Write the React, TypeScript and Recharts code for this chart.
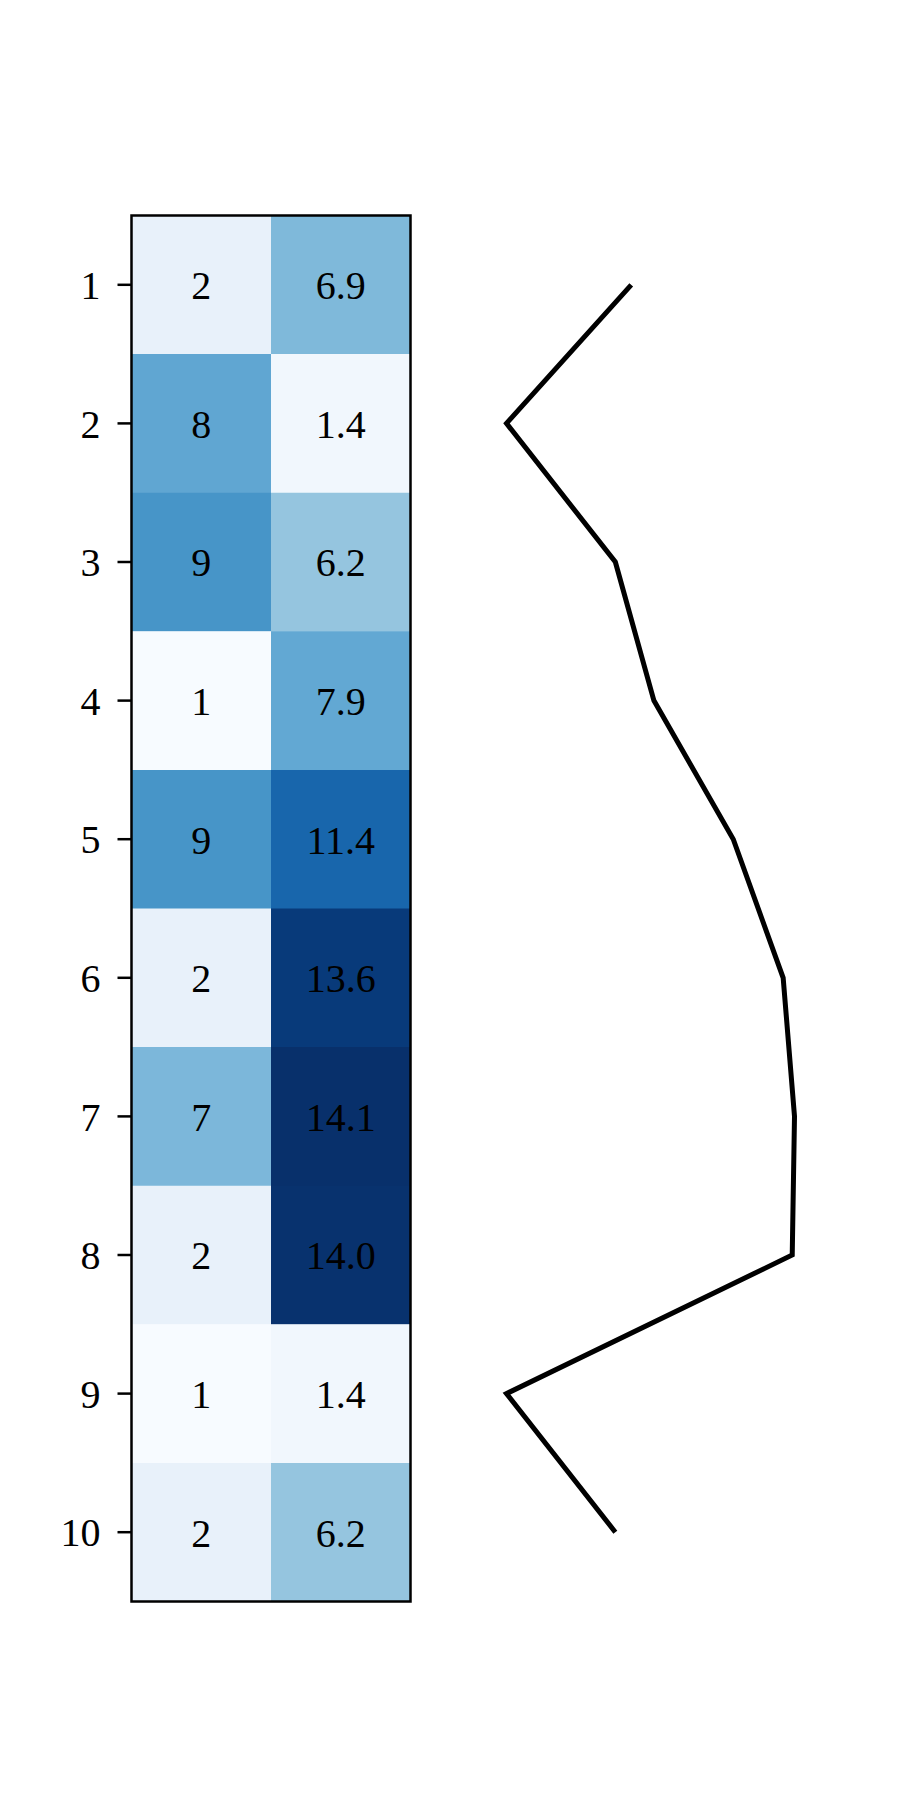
import React from 'react';
import { BarChart, Bar, XAxis, YAxis, Cell, LabelList, ComposedChart, Line, ReferenceArea } from 'recharts';

const rows = ['1', '2', '3', '4', '5', '6', '7', '8', '9', '10'];
const col1 = [2, 8, 9, 1, 9, 2, 7, 2, 1, 2];
const col2 = [6.9, 1.4, 6.2, 7.9, 11.4, 13.6, 14.1, 14.0, 1.4, 6.2];

const data = rows.map((r, i) => ({ row: r, a: 1, b: 1, v1: col1[i], v2: col2[i] }));

const allVals = [...col1, ...col2];
const vmin = Math.min(...allVals);
const vmax = Math.max(...allVals);

const BLUES = ['#f7fbff', '#deebf7', '#c6dbef', '#9ecae1', '#6baed6', '#4292c6', '#2171b5', '#08519c', '#08306b'];
function hex(c: string) {
  return [parseInt(c.slice(1, 3), 16), parseInt(c.slice(3, 5), 16), parseInt(c.slice(5, 7), 16)];
}
function blues(v: number) {
  const t = Math.max(0, Math.min(1, (v - vmin) / (vmax - vmin)));
  const p = t * (BLUES.length - 1);
  const i = Math.min(BLUES.length - 2, Math.floor(p));
  const f = p - i;
  const a = hex(BLUES[i]);
  const b = hex(BLUES[i + 1]);
  const m = a.map((x, k) => Math.round(x + (b[k] - x) * f));
  return `rgb(${m[0]},${m[1]},${m[2]})`;
}

const lo = Math.min(...col2);
const hi = Math.max(...col2);
const pad = (hi - lo) * 0.05;

const FONT = '"Liberation Serif", "DejaVu Serif", serif';
const FS = 40;

const TOP = 215.5;
const BOTTOM = 198.5;

export default function App() {
  return (
    <div style={{ position: 'absolute', left: 0, top: 0, width: 900, height: 1800, background: '#fff' }}>
      <div style={{ position: 'absolute', left: 0, top: 0 }}>
        <BarChart
          width={900}
          height={1800}
          data={data}
          layout="vertical"
          barCategoryGap={0}
          barGap={0}
          margin={{ top: TOP, bottom: BOTTOM, left: 0, right: 489.5 }}
        >
          <XAxis type="number" domain={[0, 2]} hide />
          <YAxis
            type="category"
            dataKey="row"
            width={131.5}
            tickSize={14}
            tickMargin={17}
            interval={0}
            tick={{ fill: '#000', fontSize: FS, fontFamily: FONT }}
            tickLine={{ stroke: '#000', strokeWidth: 2.5 }}
            axisLine={false}
          />
          <Bar dataKey="a" stackId="s" isAnimationActive={false}>
            {data.map((d, i) => (
              <Cell key={`a${i}`} fill={blues(d.v1)} />
            ))}
            <LabelList
              dataKey="v1"
              position="center"
              formatter={(v: any) => String(v)}
              style={{ fill: '#000', fontSize: FS, fontFamily: FONT }}
            />
          </Bar>
          <Bar dataKey="b" stackId="s" isAnimationActive={false}>
            {data.map((d, i) => (
              <Cell key={`b${i}`} fill={blues(d.v2)} />
            ))}
            <LabelList
              dataKey="v2"
              position="center"
              formatter={(v: any) => Number(v).toFixed(1)}
              style={{ fill: '#000', fontSize: FS, fontFamily: FONT }}
            />
          </Bar>
        </BarChart>
      </div>
      <div style={{ position: 'absolute', left: 0, top: 0 }}>
        <BarChart
          width={900}
          height={1800}
          data={data}
          layout="vertical"
          barCategoryGap={0}
          barGap={0}
          margin={{ top: TOP, bottom: BOTTOM, left: 131.5, right: 489.5 }}
        >
          <XAxis type="number" domain={[0, 2]} hide />
          <YAxis type="category" dataKey="row" hide />
          <Bar dataKey="a" stackId="s" fill="none" fillOpacity={0} isAnimationActive={false} />
          <Bar dataKey="b" stackId="s" fill="none" fillOpacity={0} isAnimationActive={false} />
          <ReferenceArea
            x1={0}
            x2={2}
            y1={rows[0]}
            y2={rows[rows.length - 1]}
            fill="none"
            fillOpacity={0}
            stroke="#000"
            strokeWidth={2.5}
            strokeOpacity={1}
            ifOverflow="visible"
          />
        </BarChart>
      </div>
      <div style={{ position: 'absolute', left: 0, top: 0 }}>
        <ComposedChart
          width={900}
          height={1800}
          data={data}
          layout="vertical"
          margin={{ top: TOP, bottom: BOTTOM, left: 492.1, right: 91.1 }}
        >
          <XAxis type="number" domain={[lo - pad, hi + pad]} hide />
          <YAxis type="category" dataKey="row" scale="band" hide />
          <Line
            dataKey="v2"
            type="linear"
            stroke="#000"
            strokeWidth={5}
            dot={false}
            strokeLinejoin="miter"
            isAnimationActive={false}
          />
        </ComposedChart>
      </div>
    </div>
  );
}
